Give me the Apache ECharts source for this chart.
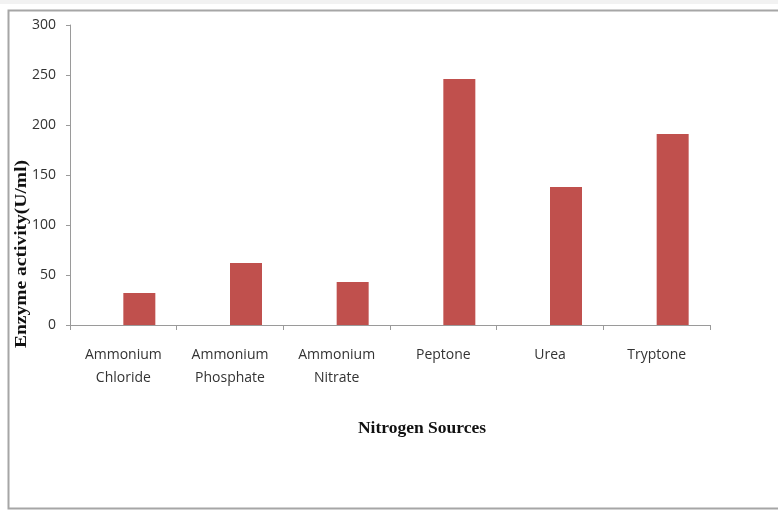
<!DOCTYPE html>
<html>
<head>
<meta charset="utf-8">
<script src="https://cdn.jsdelivr.net/npm/echarts@6/dist/echarts.min.js"></script>
<style>
  html, body { margin: 0; padding: 0; background: #fff; }
  #chart { width: 778px; height: 512px; }
</style>
</head>
<body>
<div id="chart"></div>
<script>
const sources = ['Ammonium\nChloride', 'Ammonium\nPhosphate', 'Ammonium\nNitrate', 'Peptone', 'Urea', 'Tryptone'];
const activity = [32, 62, 43, 246, 138, 191];
// Excel left an empty slot beside each bar, so the bars sit right of centre
const emptySlot = [null, null, null, null, null, null];
const yTicks = [0, 50, 100, 150, 200, 250, 300];

const chart = echarts.init(document.getElementById('chart'));

const option = {
    animation: false,
    backgroundColor: '#fff',
    grid: { left: 70, right: 68, top: 25, bottom: 187 },
    graphic: [
        { type: 'rect', shape: { x: 0, y: 0, width: 778, height: 4 }, style: { fill: '#f2f2f2' } },
        { type: 'rect', shape: { x: 8.5, y: 10.5, width: 800, height: 498 },
          style: { fill: 'none', stroke: '#a6a6a6', lineWidth: 2 } },
        // the y title is stretched along its length in the source image
        { type: 'text', x: 22, y: 254, rotation: Math.PI / 2, scaleX: 1.22,
          style: { text: 'Enzyme activity(U/ml)', font: 'bold 16px "Liberation Serif", serif',
                   fill: '#111', align: 'center', verticalAlign: 'middle' } },
        { type: 'text', x: 422, y: 428,
          style: { text: 'Nitrogen Sources', font: 'bold 17.5px "Liberation Serif", serif',
                   fill: '#111', align: 'center', verticalAlign: 'middle' } }
    ],
    xAxis: {
        type: 'category',
        data: sources,
        axisLine: { lineStyle: { color: '#9a9a9a', width: 1 } },
        axisTick: { show: true, length: 5, lineStyle: { color: '#9a9a9a' } },
        axisLabel: { color: '#333', fontSize: 14, fontFamily: 'Open Sans', margin: 19, lineHeight: 23, interval: 0 }
    },
    yAxis: {
        type: 'value',
        min: 0, max: 300, interval: 50,
        splitLine: { show: false },
        axisLine: { show: true, lineStyle: { color: '#9a9a9a', width: 1 } },
        axisTick: { show: true, length: 4, lineStyle: { color: '#9a9a9a' } },
        axisLabel: { color: '#333', fontSize: 14, fontFamily: 'Open Sans', margin: 14,
                     formatter: v => yTicks.includes(v) ? String(v) : '' }
    },
    series: [
        { type: 'bar', data: emptySlot, barWidth: 32, barGap: '0%' },
        { type: 'bar', data: activity, barWidth: 32, barGap: '0%',
          itemStyle: { color: '#c0504d' } }
    ]
};
chart.setOption(option);
</script>
</body>
</html>
